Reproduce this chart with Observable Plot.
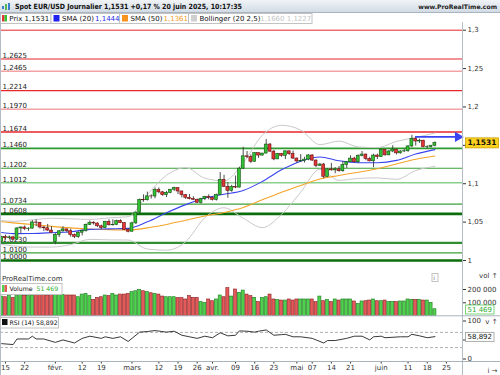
<!DOCTYPE html>
<html lang="fr">
<head>
<meta charset="utf-8">
<script src="https://cdn.jsdelivr.net/npm/d3@7"></script>
<script src="https://cdn.jsdelivr.net/npm/@observablehq/plot@0.6"></script>
<style>
html,body{margin:0;padding:0;background:#fff;}
#wrap{position:relative;width:500px;height:375px;overflow:hidden;font-family:"DejaVu Sans",sans-serif;}
.abs{position:absolute;}
</style>
</head>
<body>
<div id="wrap">
  <div id="main" class="abs" style="left:0;top:22px"></div>
  <div id="vol" class="abs" style="left:0;top:270px"></div>
  <div id="rsi" class="abs" style="left:0;top:316px"></div>
  <svg id="over" class="abs" width="500" height="375" style="left:0;top:0;pointer-events:none;font-family:'DejaVu Sans',sans-serif"></svg>
</div>
<script>
// ---------------- DATA (daily bars, 14 Jan -> 20 Jun 2025) ----------------
const open = [
 1.0245,1.0307,1.0291,1.0301,1.0272,1.0417,1.0430,1.0410,1.0415,1.0495,1.0492,1.0430,1.0420,1.0390,
 1.0240,1.0330,1.0380,1.0405,1.0382,1.0330,1.0307,1.0362,1.0382,1.0465,1.0492,1.0482,1.0446,1.0422,1.0503,1.0459,1.0464,1.0512,1.0486,1.0398,
 1.0375,1.0484,1.0624,1.0790,1.0785,1.0835,1.0834,1.0919,1.0888,1.0851,1.0881,1.0922,1.0943,1.0899,1.0852,1.0816,1.0800,1.0791,1.0752,1.0800,1.0830,
 1.0817,1.0790,1.0851,1.1051,1.0959,1.0907,1.0958,1.0950,1.1196,1.1357,1.1347,1.1286,1.1398,1.1367,1.1393,1.1510,1.1418,1.1317,1.1388,1.1363,1.1422,1.1385,
 1.1328,1.1290,1.1298,1.1314,1.1368,1.1302,1.1233,1.1250,1.1090,1.1187,1.1174,1.1188,1.1163,1.1243,1.1280,1.1327,1.1280,1.1363,1.1380,1.1323,1.1292,1.1367,
 1.1347,1.1442,1.1370,1.1420,1.1444,1.1396,1.1420,1.1423,1.1486,1.1584,1.1550,1.1561,1.1478,1.1480,1.1495];
const high = [
 1.0315,1.0330,1.0320,1.0315,1.0430,1.0435,1.0450,1.0425,1.0520,1.0530,1.0495,1.0440,1.0470,1.0440,
 1.0350,1.0390,1.0440,1.0410,1.0410,1.0345,1.0375,1.0395,1.0475,1.0515,1.0505,1.0490,1.0460,1.0510,1.0530,1.0530,1.0525,1.0530,1.0490,1.0415,
 1.0500,1.0630,1.0800,1.0855,1.0890,1.0855,1.0945,1.0945,1.0900,1.0900,1.0925,1.0955,1.0945,1.0905,1.0860,1.0860,1.0830,1.0800,1.0810,1.0835,1.0855,
 1.0830,1.0865,1.1145,1.1110,1.1015,1.0980,1.1100,1.1215,1.1475,1.1420,1.1375,1.1400,1.1400,1.1395,1.1575,1.1525,1.1435,1.1395,1.1395,1.1425,1.1425,1.1425,
 1.1335,1.1380,1.1345,1.1380,1.1380,1.1310,1.1265,1.1265,1.1195,1.1265,1.1210,1.1225,1.1290,1.1290,1.1365,1.1345,1.1375,1.1420,1.1385,1.1345,1.1385,1.1385,
 1.1455,1.1445,1.1435,1.1495,1.1450,1.1430,1.1450,1.1495,1.1630,1.1615,1.1580,1.1565,1.1495,1.1500,1.1545];
const low = [
 1.0230,1.0265,1.0270,1.0265,1.0265,1.0350,1.0390,1.0380,1.0410,1.0440,1.0410,1.0380,1.0380,1.0355,
 1.0205,1.0300,1.0370,1.0360,1.0305,1.0285,1.0290,1.0320,1.0370,1.0455,1.0460,1.0430,1.0400,1.0415,1.0450,1.0450,1.0455,1.0480,1.0390,1.0360,
 1.0370,1.0470,1.0610,1.0760,1.0775,1.0800,1.0805,1.0870,1.0835,1.0820,1.0870,1.0900,1.0860,1.0815,1.0795,1.0790,1.0780,1.0745,1.0735,1.0780,1.0790,
 1.0775,1.0775,1.0850,1.0950,1.0810,1.0890,1.0935,1.0945,1.1185,1.1330,1.1265,1.1280,1.1330,1.1360,1.1390,1.1405,1.1300,1.1315,1.1345,1.1315,1.1370,1.1315,
 1.1265,1.1280,1.1270,1.1300,1.1290,1.1210,1.1225,1.1065,1.1085,1.1165,1.1130,1.1150,1.1150,1.1200,1.1275,1.1270,1.1265,1.1350,1.1300,1.1285,1.1210,1.1315,
 1.1345,1.1360,1.1365,1.1405,1.1375,1.1385,1.1405,1.1410,1.1470,1.1490,1.1525,1.1470,1.1455,1.1465,1.1480];
const close = [
 1.0307,1.0291,1.0301,1.0272,1.0417,1.0430,1.0410,1.0415,1.0495,1.0492,1.0430,1.0420,1.0390,1.0362,
 1.0330,1.0380,1.0405,1.0382,1.0330,1.0307,1.0362,1.0382,1.0465,1.0492,1.0482,1.0446,1.0422,1.0503,1.0459,1.0464,1.0512,1.0486,1.0398,1.0375,
 1.0484,1.0624,1.0790,1.0785,1.0835,1.0834,1.0919,1.0888,1.0851,1.0881,1.0922,1.0943,1.0899,1.0852,1.0816,1.0800,1.0791,1.0752,1.0800,1.0830,1.0817,
 1.0790,1.0851,1.1051,1.0959,1.0907,1.0958,1.0950,1.1196,1.1357,1.1347,1.1286,1.1398,1.1367,1.1393,1.1510,1.1418,1.1317,1.1388,1.1363,1.1422,1.1385,1.1328,
 1.1290,1.1298,1.1314,1.1368,1.1302,1.1233,1.1250,1.1090,1.1187,1.1174,1.1188,1.1163,1.1243,1.1280,1.1327,1.1280,1.1363,1.1380,1.1323,1.1292,1.1367,1.1347,
 1.1442,1.1370,1.1420,1.1444,1.1396,1.1420,1.1423,1.1486,1.1584,1.1550,1.1561,1.1478,1.1480,1.1495,1.1531];
const volume = [
 147000,142000,150000,137000,150000,162000,152000,150000,155000,162000,160000,162000,155000,162000,
 162000,162000,160000,155000,155000,155000,142000,162000,167000,150000,122000,137000,142000,155000,150000,167000,155000,162000,162000,167000,
 180000,187000,197000,187000,180000,172000,167000,162000,147000,142000,142000,142000,135000,135000,125000,150000,137000,137000,105000,100000,125000,
 112000,125000,155000,142000,210000,147000,200000,175000,192000,162000,150000,137000,105000,137000,142000,162000,125000,120000,117000,117000,125000,117000,
 125000,125000,125000,125000,125000,105000,147000,112000,122000,105000,125000,117000,125000,125000,125000,110000,92000,110000,112000,117000,125000,112000,
 112000,117000,105000,105000,105000,110000,110000,125000,122000,122000,122000,117000,117000,100000,51469];

// indicator values read at weekly points
const indDates = ["2025-01-14","2025-01-17","2025-01-24","2025-01-31","2025-02-07","2025-02-14","2025-02-21","2025-02-28",
 "2025-03-07","2025-03-14","2025-03-21","2025-03-28","2025-04-04","2025-04-11","2025-04-18","2025-04-25","2025-05-02",
 "2025-05-09","2025-05-16","2025-05-23","2025-05-30","2025-06-06","2025-06-13","2025-06-20"];
const sma20 = [1.0365,1.0350,1.0352,1.0362,1.0375,1.0405,1.0412,1.0419,1.0504,1.0622,1.0728,1.0815,1.0862,1.0912,1.1030,1.1181,1.1294,1.1349,1.1299,1.1274,1.1274,1.1304,1.1387,1.1444];
const sma50 = [1.0505,1.0490,1.0468,1.0445,1.0425,1.0410,1.0402,1.0398,1.0425,1.0470,1.0525,1.0579,1.0625,1.0690,1.0790,1.0889,1.0978,1.1062,1.1108,1.1150,1.1196,1.1258,1.1318,1.1361];
const bbUpper = [1.0520,1.0510,1.0530,1.0550,1.0543,1.0535,1.0555,1.0571,1.0859,1.1110,1.1210,1.1072,1.1037,1.1273,1.1632,1.1761,1.1699,1.1509,1.1555,1.1479,1.1471,1.1552,1.1602,1.1660];
const bbLower = [1.0210,1.0190,1.0175,1.0175,1.0207,1.0275,1.0269,1.0267,1.0149,1.0134,1.0245,1.0558,1.0687,1.0551,1.0428,1.0601,1.0889,1.1189,1.1044,1.1069,1.1076,1.1057,1.1172,1.1227];

const rsiDates = ["2025-01-14","2025-01-17","2025-01-20","2025-01-23","2025-01-24","2025-01-27","2025-01-29","2025-02-03","2025-02-05",
 "2025-02-10","2025-02-12","2025-02-14","2025-02-19","2025-02-20","2025-02-24","2025-02-26","2025-02-28","2025-03-05","2025-03-07",
 "2025-03-11","2025-03-14","2025-03-18","2025-03-20","2025-03-24","2025-03-26","2025-03-28","2025-04-01","2025-04-03","2025-04-07",
 "2025-04-09","2025-04-10","2025-04-14","2025-04-16","2025-04-17","2025-04-21","2025-04-23","2025-04-25","2025-04-28","2025-04-30",
 "2025-05-02","2025-05-07","2025-05-12","2025-05-13","2025-05-15","2025-05-20","2025-05-22","2025-05-26","2025-05-28","2025-05-29",
 "2025-06-02","2025-06-03","2025-06-09","2025-06-11","2025-06-12","2025-06-16","2025-06-18","2025-06-20"];
const rsiValues = [40.4,38.0,52.7,52.7,60.0,52.7,52.7,43.7,50.2,42.1,54.3,60.0,54.3,58.4,54.3,58.4,46.2,70.7,72.3,74.8,70.7,73.1,62.5,58.4,54.3,60.0,56.0,69.0,60.9,62.5,73.9,73.1,70.7,73.1,76.4,62.5,64.1,65.0,58.4,58.4,54.3,42.1,48.6,48.6,54.3,60.0,60.0,50.2,58.4,60.0,56.0,58.4,58.4,65.0,60.9,56.0,58.892];

// horizontal support / resistance levels
const levelValues = [1.3000,1.2625,1.2465,1.2214,1.1970,1.1674,1.1460,1.1202,1.1012,1.0734,1.0608,1.0230,1.0100,1.0000];
const levelLabels = ["","1,2625","1,2465","1,2214","1,1970","1,1674","1,1460","1,1202","1,1012","1,0734","1,0608","1,0230","1,0100","1,0000"];
const levelColors = ["#e8262b","#e8262b","#f3a3a3","#e8262b","#f3a3a3","#e8262b","#2f9a2f","#3aa03a","#8ccf8c","#3aa03a","#0a6e0a","#2f8f2f","#3aa03a","#0a6e0a"];
const levelWidths = [1,1.2,1.5,1.2,1.5,1.5,1.6,1.2,1.5,1.2,2.6,2.2,1.2,2.6];

const priceTicks = [1, 1.05, 1.1, 1.15, 1.2, 1.25, 1.3];
const priceTickLabels = ["1", "1,05", "1,1", "", "1,2", "1,25", "1,3"];   // 1,15 sits under the price tag
const volTicks = [100000, 200000];
const rsiTicks = [0, 50, 100];
const rsiTickLabels = ["0", "", "100"];                                 // 50 sits under the RSI tag
const rsiLevels = [30, 70];
const tickDates = ["2025-01-15","2025-01-22","2025-02-03","2025-02-12","2025-02-19","2025-03-03","2025-03-12","2025-03-19","2025-03-26",
 "2025-04-01","2025-04-09","2025-04-16","2025-04-23","2025-05-01","2025-05-07","2025-05-14","2025-05-21","2025-06-02","2025-06-11","2025-06-18","2025-06-25"];
const tickLabels = ["15","22","févr.","12","19","mars","12","19","26","avr.","09","16","23","mai","07","14","21","juin","11","18","25"];

const arrowLevel = 1.1610, arrowFrom = "2025-06-13", arrowTo = "2025-06-30";
const sma20Last = 1.1444, sma50Last = 1.1361, bbUpLast = 1.1660, bbLoLast = 1.1227;

// ---------------- build ----------------
const fmtD = d3.utcFormat("%Y-%m-%d");
const calendar = d3.utcDays(new Date(Date.UTC(2025,0,14)), new Date(Date.UTC(2025,6,1))).filter(d => d.getUTCDay() % 6 !== 0);
const calIdx = new Map(calendar.map((d, i) => [fmtD(d), i]));
const xDomain = [-0.304, 120.2];
const comma = (v, n) => d3.format(`.${n}f`)(v).replace(".", ",");
const spaced = v => d3.format(",")(v).replace(/,/g, " ");

const bars = open.map((o, i) => ({i, open: o, high: high[i], low: low[i], close: close[i], vol: volume[i], up: close[i] >= o}));
const ind = indDates.map((d, k) => ({i: calIdx.get(d), sma20: sma20[k], sma50: sma50[k], up: bbUpper[k], lo: bbLower[k]}));
const rsi = rsiDates.map((d, k) => ({i: calIdx.get(d), v: rsiValues[k]}));
const levels = levelValues.map((v, k) => ({v, label: levelLabels[k], c: levelColors[k], w: levelWidths[k]}));
const tickPos = tickDates.map(d => calIdx.get(d));
const tickMap = new Map(tickPos.map((p, k) => [p, tickLabels[k]]));
const priceTickMap = new Map(priceTicks.map((p, k) => [p, priceTickLabels[k]]));
const rsiTickMap = new Map(rsiTicks.map((p, k) => [p, rsiTickLabels[k]]));
const lastBar = bars[bars.length - 1];
const lastRsi = rsi[rsi.length - 1];
const arrow = [{a: calIdx.get(arrowFrom), b: calIdx.get(arrowTo), y: arrowLevel}];

const G = "#33c233", GS = "#0f4f0f", R = "#e23535", RS = "#6a1010";
const VG = "#4fd14f", VGS = "#1d7a1d", VR = "#e45a5a", VRS = "#8a2020";
const style = {fontFamily: "DejaVu Sans, sans-serif", fontSize: "7px", background: "transparent", overflow: "visible"};

const priceText = comma(lastBar.close, 4);
const volText = spaced(lastBar.vol);
const rsiText = comma(lastRsi.v, 3);

const mainPlot = Plot.plot({
  width: 500, height: 246, marginLeft: 0, marginRight: 38, marginTop: 0, marginBottom: 0,
  style, color: {type: "identity"},
  x: {domain: xDomain, axis: null},
  y: {domain: [1.0, 1.3], range: [238, 7.7], axis: null},
  marks: [
    Plot.ruleY(levels, {y: "v", stroke: "c", strokeWidth: "w"}),
    Plot.text(levels.filter(l => l.label), {y: "v", text: "label", frameAnchor: "left", textAnchor: "start", lineAnchor: "bottom", dx: 2, dy: -1.2, fill: "#1a1a1a"}),
    Plot.line(ind, {x: "i", y: "up", stroke: "#c9c9c9", strokeWidth: 1, curve: "monotone-x"}),
    Plot.line(ind, {x: "i", y: "lo", stroke: "#c9c9c9", strokeWidth: 1, curve: "monotone-x"}),
    Plot.line(ind, {x: "i", y: "sma50", stroke: "#f5a42a", strokeWidth: 1.1, curve: "monotone-x"}),
    Plot.line(ind, {x: "i", y: "sma20", stroke: "#3a44ee", strokeWidth: 1.1, curve: "monotone-x"}),
    Plot.ruleX(bars, {x: "i", y1: "low", y2: "high", stroke: "#3a3a3a", strokeWidth: 0.9}),
    Plot.rect(bars, {x1: d => d.i - 0.38, x2: d => d.i + 0.38, y1: "open", y2: "close", fill: d => d.up ? G : R, stroke: d => d.up ? GS : RS, strokeWidth: 0.6}),
    Plot.ruleY(arrow, {y: "y", x1: "a", x2: "b", stroke: "#3a44ee", strokeWidth: 1.6}),
    Plot.dot(arrow, {x: "b", y: "y", symbol: "triangle", rotate: 90, r: 3.8, fill: "#3a44ee", stroke: "none"}),
    Plot.axisY(priceTicks, {anchor: "right", tickSize: 3, tickPadding: 2, tickFormat: d => priceTickMap.get(d), color: "#333"}),
    Plot.text([lastBar], {y: "close", frameAnchor: "right", textAnchor: "start", dx: 5, text: () => priceText, fontWeight: "bold", fontSize: 7.5, fill: "#111"})
  ]
});
document.getElementById("main").append(mainPlot);

const volPlot = Plot.plot({
  width: 500, height: 46, marginLeft: 0, marginRight: 38, marginTop: 0, marginBottom: 0,
  style, color: {type: "identity"},
  x: {domain: xDomain, axis: null},
  y: {domain: [0, 200000], range: [45.6, 19], axis: null},
  marks: [
    Plot.rect(bars, {x1: d => d.i - 0.4, x2: d => d.i + 0.4, y1: 0, y2: "vol", fill: d => d.up ? VG : VR, stroke: d => d.up ? VGS : VRS, strokeWidth: 0.6}),
    Plot.axisY(volTicks, {anchor: "right", tickSize: 3, tickPadding: 2, tickFormat: spaced, color: "#333"}),
    Plot.text([lastBar], {y: "vol", frameAnchor: "right", textAnchor: "start", dx: 5, text: () => volText, fill: "#2fae2f"})
  ]
});
document.getElementById("vol").append(volPlot);

const rsiPlot = Plot.plot({
  width: 500, height: 59, marginLeft: 0, marginRight: 38, marginTop: 0, marginBottom: 14,
  style,
  x: {domain: xDomain},
  y: {domain: [0, 100], range: [42.5, 4.5], axis: null},
  marks: [
    Plot.ruleY(rsiLevels, {stroke: "#9a9a9a", strokeDasharray: "3,2", strokeWidth: 0.8}),
    Plot.line(rsi, {x: "i", y: "v", stroke: "#222", strokeWidth: 0.9}),
    Plot.axisY(rsiTicks, {anchor: "right", tickSize: 3, tickPadding: 2, tickFormat: d => rsiTickMap.get(d), color: "#333"}),
    Plot.text([lastRsi], {y: "v", frameAnchor: "right", textAnchor: "start", dx: 5, text: () => rsiText, fill: "#111"}),
    Plot.axisX(tickPos, {anchor: "bottom", tickSize: 2.5, tickPadding: 1.5, tickFormat: d => tickMap.get(d), color: "#333"})
  ]
});
document.getElementById("rsi").append(rsiPlot);

// put a filled box behind a value label drawn by Plot in the right margin
function boxify(svg, str, fill, stroke) {
  const s = svg.getBoundingClientRect();
  const t = [...svg.querySelectorAll("text")].find(e => e.textContent === str && e.getBoundingClientRect().left - s.left > 455);
  if (!t) return;
  const b = t.getBoundingClientRect();
  const r = document.createElementNS("http://www.w3.org/2000/svg", "rect");
  r.setAttribute("x", b.left - s.left - 2); r.setAttribute("y", b.top - s.top - 0.5);
  r.setAttribute("width", b.width + 4); r.setAttribute("height", b.height + 1);
  r.setAttribute("fill", fill); r.setAttribute("stroke", stroke); r.setAttribute("stroke-width", 0.8);
  svg.appendChild(r);
  svg.appendChild(t.parentNode);
}
boxify(mainPlot, priceText, "#ffd21f", "#c9a000");
boxify(volPlot, volText, "#ffffff", "#5ccc5c");
boxify(rsiPlot, rsiText, "#ffffff", "#9a9a9a");

// ---------------- header / legends / frame ----------------
const ov = d3.select("#over");
const gr = ov.append("defs").append("linearGradient").attr("id", "tb").attr("x1", 0).attr("y1", 0).attr("x2", 0).attr("y2", 1);
gr.append("stop").attr("offset", "0%").attr("stop-color", "#f1f4f7");
gr.append("stop").attr("offset", "100%").attr("stop-color", "#d2dbe4");
ov.append("rect").attr("x", 0).attr("y", 0).attr("width", 500).attr("height", 12).attr("fill", "url(#tb)");
ov.append("line").attr("x1", 0).attr("x2", 500).attr("y1", 12.5).attr("y2", 12.5).attr("stroke", "#a9b4bf");
[[2,5,3,"#3a7fd0"],[5,3,6,"#58b858"],[8,2,7,"#3a7fd0"]].forEach(([x,y,h,c]) =>
  ov.append("rect").attr("x", x).attr("y", y + 1).attr("width", 2).attr("height", h).attr("fill", c));
ov.append("text").attr("x", 15).attr("y", 9.2).attr("font-size", 7.2).attr("font-weight", "bold").attr("fill", "#111")
  .attr("textLength", 227).attr("lengthAdjust", "spacingAndGlyphs")
  .text(`Spot EUR/USD Journalier ${priceText} +0,17 % 20 juin 2025, 10:17:35`);
ov.append("text").attr("x", 497).attr("y", 9.2).attr("font-size", 6.1).attr("font-weight", "bold").attr("fill", "#222")
  .attr("text-anchor", "end").text("www.ProRealTime.com");

function box(x0, x1, y0, y1) {
  ov.append("rect").attr("x", x0 + 0.5).attr("y", y0 + 0.5).attr("width", x1 - x0).attr("height", y1 - y0).attr("fill", "#fff").attr("stroke", "#c2c2c2");
}
function txt(x, y, s, fill, size) {
  return ov.append("text").attr("x", x).attr("y", y).attr("font-size", size || 7).attr("fill", fill || "#111").text(s);
}
// main legend
box(0, 50.5, 13, 23); box(50.5, 119, 13, 23); box(119, 188, 13, 23); box(188, 311.5, 13, 23);
ov.append("rect").attr("x", 2).attr("y", 15).attr("width", 2.5).attr("height", 6.5).attr("fill", "#e23535");
ov.append("rect").attr("x", 4.5).attr("y", 15).attr("width", 2.5).attr("height", 6.5).attr("fill", "#33c233");
txt(9.3, 20.6, `Prix ${priceText}`);
ov.append("rect").attr("x", 53.5).attr("y", 15).attr("width", 6).attr("height", 6.5).attr("fill", "#2222ee");
txt(62, 20.6, "SMA (20)"); txt(95, 20.6, comma(sma20Last, 4), "#2a2ae8");
ov.append("rect").attr("x", 122).attr("y", 15).attr("width", 6).attr("height", 6.5).attr("fill", "#f7941d");
txt(130.5, 20.6, "SMA (50)"); txt(163.5, 20.6, comma(sma50Last, 4), "#f39a2a");
ov.append("rect").attr("x", 191).attr("y", 15).attr("width", 6).attr("height", 6.5).attr("fill", "#cfcfcf");
txt(199.5, 20.6, "Bollinger (20 2,5)"); txt(260, 20.6, `${comma(bbUpLast, 4)} ${comma(bbLoLast, 4)}`, "#c4c4c4");

// frame lines
ov.append("line").attr("x1", 462.5).attr("x2", 462.5).attr("y1", 22).attr("y2", 375).attr("stroke", "#b3bdc7");
ov.append("line").attr("x1", 0.5).attr("x2", 0.5).attr("y1", 12).attr("y2", 375).attr("stroke", "#b3bdc7");
ov.append("line").attr("x1", 0).attr("x2", 500).attr("y1", 315.8).attr("y2", 315.8).attr("stroke", "#aab3bc");
ov.append("line").attr("x1", 0).attr("x2", 500).attr("y1", 361.5).attr("y2", 361.5).attr("stroke", "#aab3bc");

// sub-panel headers
txt(2, 280.5, "ProRealTime.com", "#333", 7);
box(431.5, 437.5, 273, 281); txt(433.2, 279.6, "i", "#777", 6);
box(0, 61.5, 283, 294);
ov.append("rect").attr("x", 2).attr("y", 285).attr("width", 2.5).attr("height", 7).attr("fill", "#4fd14f");
ov.append("rect").attr("x", 4.5).attr("y", 285).attr("width", 2.5).attr("height", 7).attr("fill", "#e45a5a");
txt(9.5, 291.3, "Volume", "#111", 6.2); txt(36.5, 291.3, volText, "#2fae2f", 6.2);
box(0, 58, 317, 327.5);
ov.append("rect").attr("x", 2).attr("y", 319).attr("width", 5.5).attr("height", 6).attr("fill", "#111");
txt(9.5, 325.2, "RSI (14)", "#111", 6.2); txt(36, 325.2, rsiText, "#111", 6.2);
</script>
</body>
</html>
